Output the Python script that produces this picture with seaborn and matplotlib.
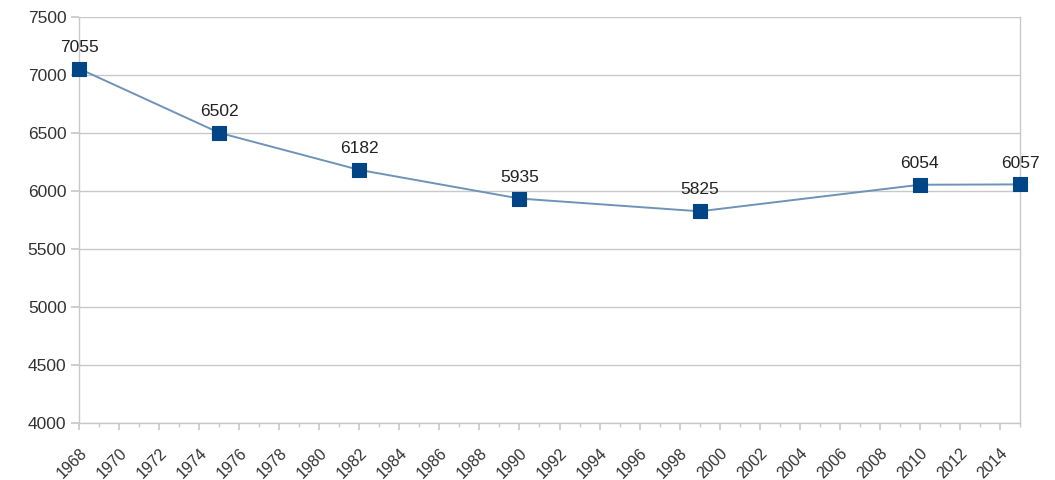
import matplotlib
matplotlib.use("Agg")
import matplotlib.pyplot as plt
import seaborn as sns
import pandas as pd
import numpy as np
from matplotlib.ticker import MultipleLocator

years = [1968, 1975, 1982, 1990, 1999, 2010, 2015]
population = [7055, 6502, 6182, 5935, 5825, 6054, 6057]
tick_years = list(range(1968, 2015, 2))
y_ticks = list(range(4000, 7501, 500))

sns.set_theme(style="white")
plt.rcParams['font.family'] = ['Liberation Sans', 'DejaVu Sans']

df = pd.DataFrame({"year": years, "pop": population})

fig = plt.figure(figsize=(10.55, 4.8), dpi=100)
ax = fig.add_axes([0.0749, 0.11875, 0.8919, 0.8458])

sns.lineplot(data=df, x="year", y="pop", ax=ax, color="#6f93b8", linewidth=1.4,
             zorder=2)
sns.scatterplot(data=df, x="year", y="pop", ax=ax, marker="s", s=100,
                color="#004586", edgecolor="#004586", zorder=3, clip_on=False)

for x, y in zip(years, population):
    ax.annotate(str(y), (x, y), xytext=(0, 10), textcoords="offset points",
                ha="center", va="bottom", fontsize=12.5, color="#222222",
                annotation_clip=False)

ax.set_xlim(1968, 2015)
ax.set_ylim(4000, 7500)
ax.set_xticks(tick_years)
ax.set_xticklabels([str(t) for t in tick_years], rotation=45, ha="right",
                   va="top", rotation_mode="anchor", fontsize=11.5,
                   color="#333333")
ax.xaxis.set_minor_locator(MultipleLocator(1))
ax.set_yticks(y_ticks)
ax.set_yticklabels([str(t) for t in y_ticks], fontsize=12.5, color="#333333")
ax.tick_params(axis="x", which="major", bottom=True, length=5, color="#c8c8c8",
               pad=11)
ax.tick_params(axis="x", which="minor", bottom=True, length=3, color="#c8c8c8")
ax.tick_params(axis="y", left=True, length=6, color="#c8c8c8", pad=3)
ax.yaxis.grid(True, color="#c8c8c8", linewidth=1)
ax.xaxis.grid(False)
ax.set_axisbelow(True)
for side, sp in ax.spines.items():
    sp.set_color("#c8c8c8")
    sp.set_linewidth(1)
ax.spines["top"].set_visible(False)
ax.set_xlabel("")
ax.set_ylabel("")

fig.savefig("out.png", dpi=100, facecolor="white")
